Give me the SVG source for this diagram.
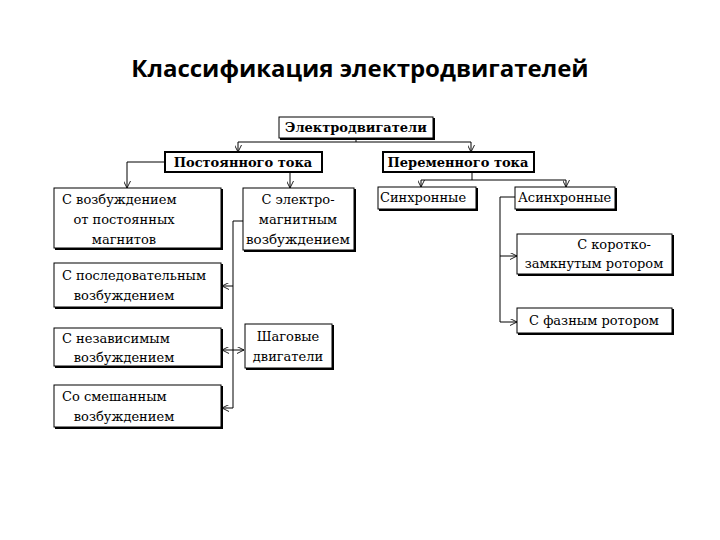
<svg xmlns="http://www.w3.org/2000/svg" width="720" height="540" viewBox="0 0 720 540">
<defs>
<marker id="a" viewBox="0 0 8 8" refX="8" refY="4" markerWidth="7" markerHeight="7" orient="auto" markerUnits="userSpaceOnUse"><path d="M0,0 L8,4 L0,8" fill="none" stroke="#000" stroke-width="1"/></marker>
<style>
.b{fill:#fff;stroke:#000;stroke-width:1}
.s{fill:none;stroke:#000;stroke-width:2}
.t{font-family:'DejaVu Serif','Liberation Serif',serif;font-size:13px;fill:#000}
.tb{font-family:'DejaVu Serif','Liberation Serif',serif;font-size:13px;font-weight:bold;fill:#000}
.c{fill:none;stroke:#000;stroke-width:1;marker-end:url(#a)}
.l{fill:none;stroke:#000;stroke-width:1}
</style>
</defs>
<rect width="720" height="540" fill="#fff"/>
<text x="360" y="77" text-anchor="middle" font-family="'Open Sans',sans-serif" font-weight="bold" font-size="24">Классификация электродвигателей</text>
<g id="connectors">
<path class="l" d="M356,139 V142"/>
<path class="c" d="M356,142 H238 V152"/>
<path class="c" d="M356,142 H471 V152"/>
<path class="c" d="M165,162 H127 V188"/>
<path class="c" d="M290,173 V188"/>
<path class="c" d="M472,173 V180 H421 V187"/>
<path class="c" d="M472,180 H566 V187"/>
<path class="l" d="M243,221 H233 V408"/>
<path class="c" d="M233,286 H222"/>
<path class="c" d="M233,350 H222"/>
<path class="c" d="M233,408 H222"/>
<path class="c" d="M233,350 H244"/>
<path class="l" d="M515,197 H500 V322"/>
<path class="c" d="M500,256 H517"/>
<path class="c" d="M500,322 H517"/>
</g>
<g id="n1"><path class="s" d="M434,118 V139 H280"/><rect class="b" x="279" y="117" width="154" height="21"/><text class="tb" x="356" y="132" text-anchor="middle">Электродвигатели</text></g>
<g id="n2"><rect x="165" y="152" width="157" height="20" fill="#fff" stroke="#000" stroke-width="2"/><text class="tb" x="243" y="167" text-anchor="middle">Постоянного тока</text></g>
<g id="n3"><rect x="383" y="152" width="151" height="20" fill="#fff" stroke="#000" stroke-width="2"/><text class="tb" x="458" y="167" text-anchor="middle">Переменного тока</text></g>
<g id="n4"><path class="s" d="M222,189 V249 H55"/><rect class="b" x="54" y="188" width="167" height="60"/><text class="t" x="62" y="204">С возбуждением</text><text class="t" x="124" y="224" text-anchor="middle">от постоянных</text><text class="t" x="124" y="244" text-anchor="middle">магнитов</text></g>
<g id="n5"><path class="s" d="M355,189 V251 H244"/><rect class="b" x="243" y="188" width="111" height="62"/><text class="t" x="298" y="204" text-anchor="middle">С электро-</text><text class="t" x="298" y="224" text-anchor="middle">магнитным</text><text class="t" x="298" y="244" text-anchor="middle" textLength="104" lengthAdjust="spacingAndGlyphs">возбуждением</text></g>
<g id="n6"><path class="s" d="M222,264 V308 H55"/><rect class="b" x="54" y="263" width="167" height="44"/><text class="t" x="62" y="280">С последовательным</text><text class="t" x="124" y="300" text-anchor="middle">возбуждением</text></g>
<g id="n7"><path class="s" d="M222,329 V367 H55"/><rect class="b" x="54" y="328" width="167" height="38"/><text class="t" x="62" y="343">С независимым</text><text class="t" x="124" y="362" text-anchor="middle">возбуждением</text></g>
<g id="n8"><path class="s" d="M222,386 V428 H55"/><rect class="b" x="54" y="385" width="167" height="42"/><text class="t" x="62" y="401">Со смешанным</text><text class="t" x="124" y="421" text-anchor="middle">возбуждением</text></g>
<g id="n9"><path class="s" d="M333,325 V369 H246"/><rect class="b" x="245" y="324" width="87" height="44"/><text class="t" x="288" y="341" text-anchor="middle">Шаговые</text><text class="t" x="288" y="361" text-anchor="middle">двигатели</text></g>
<g id="n10"><path class="s" d="M477,188 V210 H379"/><rect class="b" x="378" y="187" width="98" height="22"/><text class="t" x="380" y="202">Синхронные</text></g>
<g id="n11"><path class="s" d="M616,188 V210 H516"/><rect class="b" x="515" y="187" width="100" height="22"/><text class="t" x="518" y="202">Асинхронные</text></g>
<g id="n12"><path class="s" d="M673,235 V275 H518"/><rect class="b" x="517" y="234" width="155" height="40"/><text class="t" x="614" y="249" text-anchor="middle">С коротко-</text><text class="t" x="594" y="268" text-anchor="middle">замкнутым ротором</text></g>
<g id="n13"><path class="s" d="M673,309 V334 H518"/><rect class="b" x="517" y="308" width="155" height="25"/><text class="t" x="594" y="325" text-anchor="middle">С фазным ротором</text></g>
</svg>
